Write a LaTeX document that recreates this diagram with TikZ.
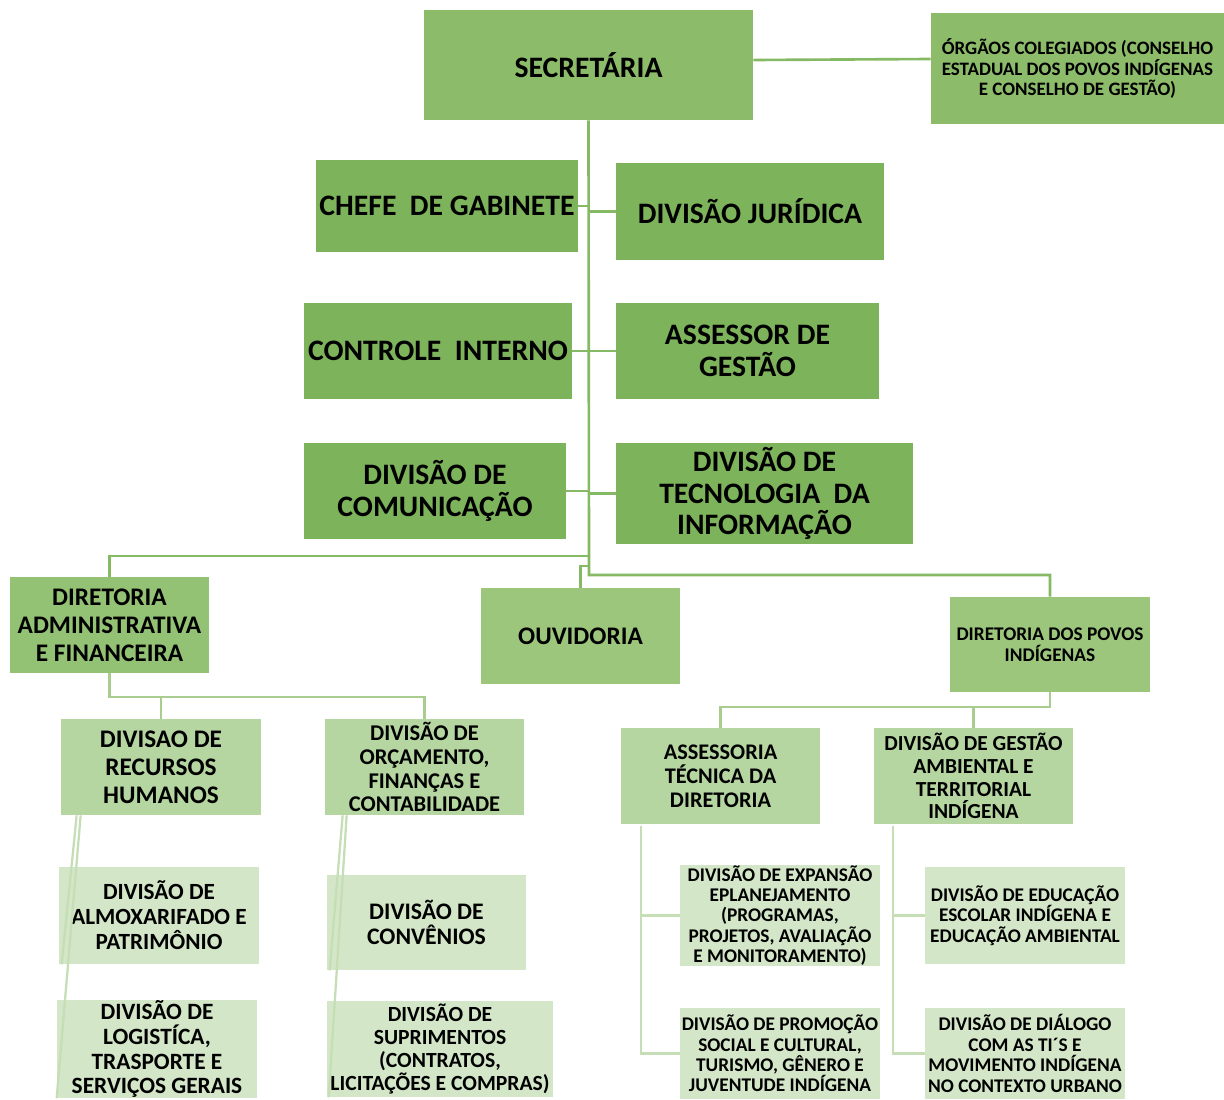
\documentclass[tikz,border=0pt]{standalone}
\usepackage{fontspec}
\setmainfont{Carlito}
\usetikzlibrary{positioning}

\definecolor{secgreen}{HTML}{8CBB6A}
\definecolor{midgreen}{HTML}{7DB35B}
\definecolor{dirgreen}{HTML}{93C274}
\definecolor{ouvgreen}{HTML}{9BC67C}
\definecolor{divgreen}{HTML}{B5D6A0}
\definecolor{subgreen}{HTML}{D4E6C8}
\definecolor{linegreen}{HTML}{86B964}
\definecolor{linelight}{HTML}{A8CD8E}
\definecolor{linepale}{HTML}{C6DEB6}

\newcommand{\fsz}[2]{\fontsize{#1}{#2}\selectfont\bfseries}

\begin{document}
\begin{tikzpicture}[x=0.02cm,y=-0.02cm,
    box/.style={rectangle,inner sep=0pt,align=center,text=black},
    conn/.style={draw=linegreen,line width=1.5pt},
    connlight/.style={draw=linelight,line width=1.3pt},
    connpale/.style={draw=linepale,line width=1.3pt}]
    \useasboundingbox (0,0) rectangle (1224,1099);

    % topo
    \node[box,fill=secgreen,minimum width=6.58cm,minimum height=2.2cm,font=\fsz{16.9}{18.1}] (sec) at (588.5,65) {SECRET\'ARIA};
    \node[box,fill=secgreen,minimum width=5.86cm,minimum height=2.22cm,font=\fsz{10.8}{11.6}] (org) at (1077.5,68.5) {\'ORG\~AOS COLEGIADOS (CONSELHO\\ESTADUAL DOS POVOS IND\'IGENAS\\E CONSELHO DE GEST\~AO)};

    % assessorias ligadas ao eixo
    \node[box,fill=midgreen,minimum width=5.24cm,minimum height=1.84cm,font=\fsz{16.9}{18.1}] (chefe) at (447,206) {CHEFE\ \ DE GABINETE};
    \node[box,fill=midgreen,minimum width=5.36cm,minimum height=1.94cm,font=\fsz{16.9}{18.1}] (jur) at (750,211.5) {DIVIS\~AO JUR\'IDICA};
    \node[box,fill=midgreen,minimum width=5.36cm,minimum height=1.92cm,font=\fsz{16.9}{18.1}] (ctrl) at (438,351) {CONTROLE\ \ INTERNO};
    \node[box,fill=midgreen,minimum width=5.26cm,minimum height=1.92cm,font=\fsz{16.9}{18.1}] (asse) at (747.5,351) {ASSESSOR DE\\GEST\~AO};
    \node[box,fill=midgreen,minimum width=5.24cm,minimum height=1.92cm,font=\fsz{16.9}{18.1}] (com) at (435,491) {DIVIS\~AO DE\\COMUNICA\c{C}\~AO};
    \node[box,fill=midgreen,minimum width=5.94cm,minimum height=2.02cm,font=\fsz{16.9}{18.1}] (ti) at (764.5,493.5) {DIVIS\~AO DE\\TECNOLOGIA\ \ DA\\INFORMA\c{C}\~AO};

    % diretorias
    \node[box,fill=dirgreen,minimum width=3.98cm,minimum height=1.92cm,font=\fsz{14.4}{15.9}] (dadm) at (109.5,625) {DIRETORIA\\ADMINISTRATIVA\\E FINANCEIRA};
    \node[box,fill=ouvgreen,minimum width=3.98cm,minimum height=1.92cm,font=\fsz{14.4}{15.9}] (ouv) at (580.5,636) {OUVIDORIA};
    \node[box,fill=ouvgreen,minimum width=4cm,minimum height=1.9cm,font=\fsz{11}{11.9}] (dpov) at (1050,644.5) {DIRETORIA DOS POVOS\\IND\'IGENAS};

    % divisoes da diretoria administrativa
    \node[box,fill=divgreen,minimum width=4cm,minimum height=1.92cm,font=\fsz{14.4}{15.9}] (rh) at (161,767) {DIVISAO DE\\RECURSOS\\HUMANOS};
    \node[box,fill=divgreen,minimum width=3.98cm,minimum height=1.92cm,font=\fsz{12.8}{13.6}] (orc) at (424.5,767) {DIVIS\~AO DE\\OR\c{C}AMENTO,\\FINAN\c{C}AS E\\CONTABILIDADE};
    \node[box,fill=subgreen,minimum width=4cm,minimum height=1.94cm,font=\fsz{13.2}{14.2}] (alm) at (159,915.5) {DIVIS\~AO DE\\ALMOXARIFADO E\\PATRIM\^ONIO};
    \node[box,fill=subgreen,minimum width=4cm,minimum height=1.92cm,font=\fsz{13.3}{14.2}] (log) at (157,1049) {DIVIS\~AO DE\\LOGIST\'ICA,\\TRASPORTE E\\SERVI\c{C}OS GERAIS};
    \node[box,fill=subgreen,minimum width=3.98cm,minimum height=1.9cm,font=\fsz{13.5}{14.2}] (conv) at (426.5,922.5) {DIVIS\~AO DE\\CONV\^ENIOS};
    \node[box,fill=subgreen,minimum width=4.52cm,minimum height=1.92cm,font=\fsz{12.3}{13}] (sup) at (440,1049) {DIVIS\~AO DE\\SUPRIMENTOS\\(CONTRATOS,\\LICITA\c{C}\~OES E COMPRAS)};

    % divisoes da diretoria dos povos
    \node[box,fill=divgreen,minimum width=3.98cm,minimum height=1.92cm,font=\fsz{12.7}{13.6}] (ate) at (720.5,776) {ASSESSORIA\\T\'ECNICA DA\\DIRETORIA};
    \node[box,fill=divgreen,minimum width=3.98cm,minimum height=1.92cm,font=\fsz{12.2}{13}] (gam) at (973.5,776) {DIVIS\~AO DE GEST\~AO\\AMBIENTAL E\\TERRITORIAL\\IND\'IGENA};
    \node[box,fill=subgreen,minimum width=4cm,minimum height=1.94cm,font=\fsz{11}{11.6}] (exp) at (780,915.5) {DIVIS\~AO DE EXPANS\~AO\\EPLANEJAMENTO\\(PROGRAMAS,\\PROJETOS, AVALIA\c{C}\~AO\\E MONITORAMENTO)};
    \node[box,fill=subgreen,minimum width=4cm,minimum height=1.82cm,font=\fsz{11}{11.6}] (prom) at (780,1053.5) {DIVIS\~AO DE PROMO\c{C}\~AO\\SOCIAL E CULTURAL,\\TURISMO, G\^ENERO E\\JUVENTUDE IND\'IGENA};
    \node[box,fill=subgreen,minimum width=4cm,minimum height=1.94cm,font=\fsz{11}{11.6}] (edu) at (1025,915.5) {DIVIS\~AO DE EDUCA\c{C}\~AO\\ESCOLAR IND\'IGENA E\\EDUCA\c{C}\~AO AMBIENTAL};
    \node[box,fill=subgreen,minimum width=4cm,minimum height=1.82cm,font=\fsz{11}{11.6}] (dia) at (1025,1053.5) {DIVIS\~AO DE DI\'ALOGO\\COM AS TI´S E\\MOVIMENTO IND\'IGENA\\NO CONTEXTO URBANO};

    % pontos do eixo
    \coordinate (sp1) at (589,556);
    \coordinate (sp2) at (589,566);
    \coordinate (sp3) at (589,575);
    \coordinate (da1) at (109.5,697);
    \coordinate (dp1) at (1050,707);

    % ligacoes
    \draw[conn] ([yshift=0.1cm]sec.east) -- ([yshift=0.19cm]org.west);
    \draw[conn] (sec.south) -- (sp3) -| (dpov.north);
    \draw[conn] (sp1) -| (dadm.north);
    \draw[conn] (sp2) -| (ouv.north);
    \foreach \n in {chefe,ctrl,com} {
      \draw[conn] (\n.east) -- (\n.east -| sp1);
    }
    \foreach \n in {jur,asse,ti} {
      \draw[conn] (\n.west) -- (\n.west -| sp1);
    }

    \draw[connlight] (dadm.south) -- (da1) -| (rh.north);
    \draw[connlight] (da1) -| (orc.north);
    \draw[connlight] (dpov.south) -- (dp1) -| (ate.north);
    \draw[connlight] (dp1) -| (gam.north);

    \draw[connpale] ([xshift=0.4cm,yshift=-0.04cm]ate.south west) |- (exp.west);
    \draw[connpale] ([xshift=0.4cm,yshift=-0.04cm]ate.south west) |- (prom.west);
    \draw[connpale] ([xshift=0.38cm,yshift=-0.04cm]gam.south west) |- (edu.west);
    \draw[connpale] ([xshift=0.38cm,yshift=-0.04cm]gam.south west) |- (dia.west);

    \draw[connpale] ([xshift=0.4cm]rh.south west) -- (log.south west);
    \draw[connpale] ([xshift=0.32cm]rh.south west) -- ([xshift=0.06cm]alm.south west);
    \draw[connpale] ([xshift=0.44cm]orc.south west) -- ([xshift=0.04cm]sup.south west);
    \draw[connpale] ([xshift=0.36cm]orc.south west) -- ([xshift=0.06cm]conv.south west);
  \end{tikzpicture}
\end{document}
